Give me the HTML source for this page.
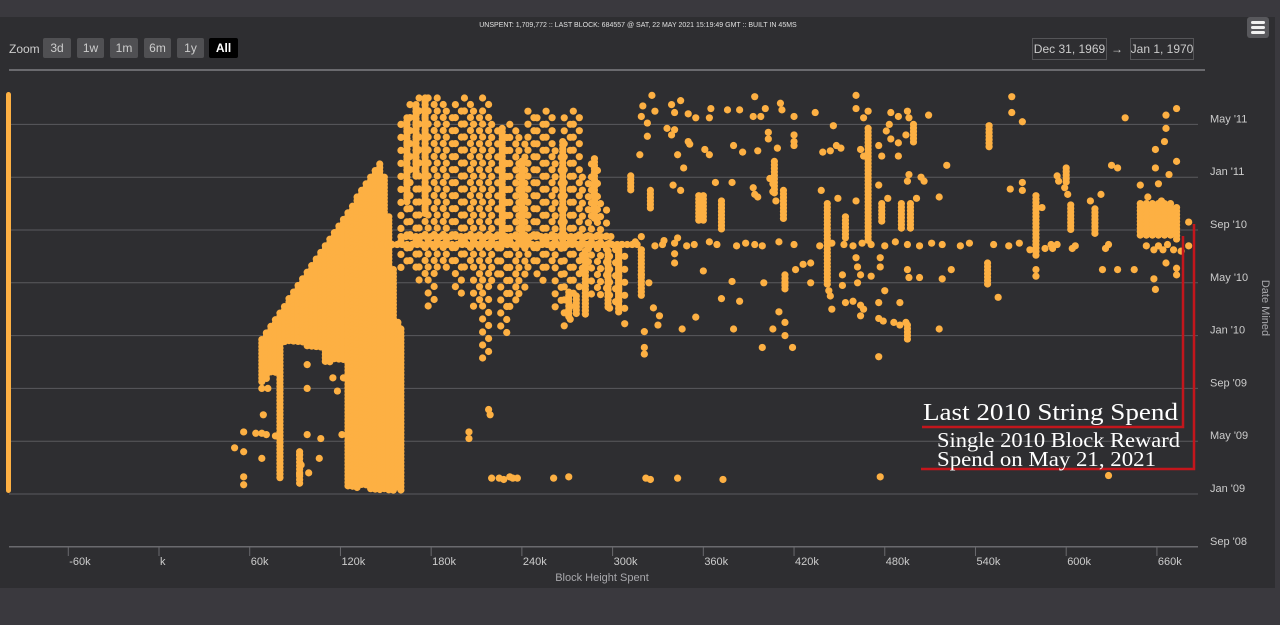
<!DOCTYPE html>
<html><head><meta charset="utf-8"><style>
html,body{margin:0;padding:0;background:#3a393e;}
svg{display:block;font-family:"Liberation Sans",sans-serif;}
</style></head><body>
<svg id="chart" width="1280" height="625" viewBox="0 0 1280 625">
<rect x="0" y="0" width="1280" height="625" fill="#3a393e"/>
<rect x="0" y="17" width="1275" height="571" fill="#2e2e31"/>
<text x="638" y="27" text-anchor="middle" font-size="7" fill="#e0e0e0">UNSPENT: 1,709,772 :: LAST BLOCK: 684557 @ SAT, 22 MAY 2021 15:19:49 GMT :: BUILT IN 45MS</text>
<g>
<text x="9" y="53" font-size="12" fill="#cccccc">Zoom</text>
<g><rect x="43" y="38" width="28" height="20" rx="2" fill="#505053"/><text x="57" y="52" text-anchor="middle" font-size="12" fill="#cccccc">3d</text></g>
<g><rect x="77" y="38" width="27" height="20" rx="2" fill="#505053"/><text x="90.5" y="52" text-anchor="middle" font-size="12" fill="#cccccc">1w</text></g>
<g><rect x="110" y="38" width="28" height="20" rx="2" fill="#505053"/><text x="124" y="52" text-anchor="middle" font-size="12" fill="#cccccc">1m</text></g>
<g><rect x="144" y="38" width="27" height="20" rx="2" fill="#505053"/><text x="157.5" y="52" text-anchor="middle" font-size="12" fill="#cccccc">6m</text></g>
<g><rect x="177" y="38" width="27" height="20" rx="2" fill="#505053"/><text x="190.5" y="52" text-anchor="middle" font-size="12" fill="#cccccc">1y</text></g>
<g><rect x="209" y="38" width="29" height="20" rx="2" fill="#000000"/><text x="223.5" y="52" text-anchor="middle" font-size="12" font-weight="bold" fill="#ffffff">All</text></g>
</g>
<g>
<g><rect x="1032.5" y="38.5" width="74" height="21" fill="none" stroke="#555558"/><text x="1069.5" y="53" text-anchor="middle" font-size="12" fill="#cccccc">Dec 31, 1969</text></g>
<text x="1117" y="53" text-anchor="middle" font-size="12" fill="#cccccc">→</text>
<g><rect x="1130.5" y="38.5" width="63" height="21" fill="none" stroke="#555558"/><text x="1162" y="53" text-anchor="middle" font-size="12" fill="#cccccc">Jan 1, 1970</text></g>
</g>
<g><rect x="1247" y="17" width="22" height="21" rx="3" fill="#58585c"/><rect x="1251" y="21" width="14" height="3" rx="1.5" fill="#f0f0f0"/><rect x="1251" y="26" width="14" height="3" rx="1.5" fill="#f0f0f0"/><rect x="1251" y="31" width="14" height="3" rx="1.5" fill="#f0f0f0"/></g>
<line x1="9" y1="70" x2="1205" y2="70" stroke="#6a6a6e" stroke-width="2"/>
<g id="grid"></g>
<g id="axes"></g>
<rect x="6" y="92" width="5" height="401" rx="2.5" fill="#fdb043"/>
<g id="dots"></g>
<g>
<polyline points="922,427 1183,427 1183,236" fill="none" stroke="#c4161c" stroke-width="2.5"/>
<polyline points="921,469 1194,469 1194,224" fill="none" stroke="#c4161c" stroke-width="2.5"/>
<text x="923" y="420" font-family="Liberation Serif, serif" font-size="24" fill="#ffffff" textLength="255" lengthAdjust="spacingAndGlyphs">Last 2010 String Spend</text>
<text x="937" y="447" font-family="Liberation Serif, serif" font-size="21" fill="#ffffff" textLength="243" lengthAdjust="spacingAndGlyphs">Single 2010 Block Reward</text>
<text x="937" y="466" font-family="Liberation Serif, serif" font-size="21" fill="#ffffff" textLength="219" lengthAdjust="spacingAndGlyphs">Spend on May 21, 2021</text>
</g>
</svg>
<script>
// x: block height (thousands); y: months since Jan 2009
const xTickValues = [-60,0,60,120,180,240,300,360,420,480,540,600,660];
const xTickLabels = ["-60k","k","60k","120k","180k","240k","300k","360k","420k","480k","540k","600k","660k"];
const yTickValues = [-4,0,4,8,12,16,20,24,28];
const yTickLabels = ["Sep '08","Jan '09","May '09","Sep '09","Jan '10","May '10","Sep '10","Jan '11","May '11"];
// dense vertical runs: [block, monthFrom, monthTo]
const denseRuns = [[68,8.5,11.7],[71,8.5,12.2],[74,9,12.7],[77,9,13.2],[80,1,13.7],[83,11.5,14.2],[86,11.5,14.8],[89,11.5,15.3],[92,11.5,15.8],[95,11.5,16.3],[98,11,16.8],[101,11,17.3],[104,11,17.8],[107,11,18.3],[110,10,18.8],[113,10,19.3],[116,10,19.8],[119,10,20.3],[122,10,20.8],[125,0.5,21.3],[128,0.5,21.8],[131,0.5,22.5],[134,0.5,23],[137,0.5,23.5],[140,0.3,24],[143,0.3,24.5],[146,0.3,25],[149,0.3,24],[152,0.3,21],[155,0.3,17],[158,0.3,13],[160,0.3,12.5],[93,0.7,3.2],
[164,22,28.5],[170,24,29.5],[176,21,30],
[227,18.9,27.7],[240,19.1,25.2],[267,18.9,26.7],[288,20.9,25.4],[282,13.6,18.4],[304,14.6,18.4],[297,14,18.4],[271,13.3,15.3],[276,13.5,15],
[469,19.1,27.7],[649,19.5,22],[653,19.5,22],[657,19.5,22],[661,19.5,22],[665,19.5,22],[669,19.5,22],[673,19.2,21.7],[603,19.8,21.9],[619,19.6,21.6],[580,17.9,22.6],[497,20,22],[491,20,22],[478,20.6,22],[442,15.8,22],[413,20.7,23],[407,22.7,25.2],[357,20.6,22.6],[360,20.6,22.6],[372,20,22.2],[325,21.5,23],[312,22.9,24.1],[304,13.6,18.3],[499,26.5,28],[495,11.5,12.8],[454,19.2,21],[414,15.3,16.6],[549,26.2,27.9],[600,23.5,24.7],[319,14.8,18.5],[548,15.7,17.5]];
// sparse vertical runs of scattered spends: [block, monthFrom, monthTo]
const sparseRuns = [[162,17,28],[168,17,29.5],[174,16,30],[180,14,30],[186,17,30],[192,17,29],[198,15,29.5],[204,17,30],[210,14,29],[216,10,30],[222,16,28],[228,12,27.5],[234,14,28],[240,15,27],[246,17,29],[252,16,28.5],[258,17,29],[264,14,26],[270,12.5,28.5],[276,15,29],[282,17,24],[288,15,25],[294,15,22],[300,14,19],[306,14,18.5]];
// horizontal runs: [month, blockFrom, blockTo]
const rowRuns = [[18.9,141,317],[19.5,160,300]];
// individual spends: [block, month]
const points = [
[306,18.9],[315,19.1],[328,18.8],[333,18.9],[341,19],[349,18.8],[354,18.9],[364,19.1],[369,18.9],[382,18.8],[388,19],[394,18.9],[399,18.8],[410,19.1],[420,18.9],[437,18.8],[445,19],[453,18.9],[459,18.8],[465,19],[471,18.9],[480,18.8],[487,19.1],[495,18.9],[503,18.8],[511,19],[518,18.9],[530,18.8],[536,19],[552,18.9],[562,18.8],[569,19],[590,18.9],[594,18.9],[606,18.8],[628,18.9],[653,18.8],[661,18.8],[667,18.9],[681,18.8],
[326,30.2],[320,29.4],[319,28.6],[323,28.1],[328,29],[339,29.5],[341,28.9],[345,29.8],[350,28.8],[355,28.5],[364,28.5],[365,29.2],[376,29.1],[384,29.1],[394,30.1],[393,28.6],[398,28.6],[401,29.2],[411,29.6],[412,29.1],[420,28.6],[434,28.9],[461,30.2],[461,29.2],[469,29],[466,28.5],[484,28.9],[489,28.6],[495,29],[496,28.5],[509,28.7],[564,30.1],[564,28.9],[571,28.2],[639,28.5],[666,28.7],[673,29.2],[666,27.7],[665,26.7],[659,26.1],[673,25.2],[659,24.7],[668,24.2],[630,24.9],[634,24.7],[594,24.1],[521,24.9],
[323,27.1],[336,27.7],[339,27.2],[341,27.6],[350,26.7],[351,26.5],[361,26.1],[364,25.7],[380,26.4],[386,25.9],[396,26],[403,27.4],[403,26.9],[409,26.2],[420,27.2],[420,26.7],[420,26.4],[446,27.9],[439,25.9],[444,26],[448,26.4],[451,26.2],[464,26.1],[466,25.6],[476,26.4],[478,25.6],[481,27.5],[483,28],[484,26.9],[494,27.2],[489,26.6],[489,25.6],[318,25.7],[347,24.7],[343,25.7],
[368,23.6],[379,23.6],[340,23.4],[345,23],[393,23.2],[394,22.7],[396,22.5],[404,23.9],[406,23.5],[406,22.9],[408,22.2],[438,23],[449,22.4],[461,22.2],[476,23.4],[482,22.4],[501,22.4],[496,24.2],[495,23.7],[504,24],[506,23.7],[516,22.5],[563,23.1],[571,23.6],[571,23],[595,23.7],[599,23.2],[601,22.7],[649,23.4],[661,23.5],[623,22.7],[616,22.2],[654,22.5],[663,22.2],[650,21.7],[584,21.7],
[319,19.5],[334,19.2],[343,19.4],[319,18.5],[341,18.2],[341,17.5],[360,16.9],[319,16.6],[324,16],[379,16.1],[400,16],[414,16],[421,17],[426,17.4],[431,17.5],[431,16],[461,17.9],[462,17.2],[464,16.6],[477,17.9],[477,17.2],[471,16.5],[462,16],[452,15.8],[452,16.6],[495,17],[496,16.4],[503,16.4],[518,16.3],[524,17],[576,18.5],[580,17],[580,16.5],[624,17],[634,17],[645,17],[658,16.3],[659,15.5],[586,18.6],[591,18.6],[604,18.6],[626,18.6],[658,18.5],[664,18.5],[671,18.5],[676,18.4],[666,17.5],[673,17.1],[673,16.6],[681,20.6],
[443,15.4],[444,15],[454,14.5],[459,14.6],[464,14.3],[466,14],[464,13.5],[480,15.4],[476,14.5],[476,13.3],[479,13.1],[486,13],[490,12.8],[494,13],[490,14.5],[445,14],[372,14.8],[384,14.6],[555,14.9],[327,14.1],[331,13.5],[330,12.8],[308,12.9],[355,13.4],[346,12.5],[380,12.5],[321,12.3],[321,11.1],[321,10.6],[414,12],[414,13],[406,12.5],[399,11.1],[419,11.1],[476,10.4],[516,12.5],[410,13.8],
[220,1.2],[225,1.2],[228,1.1],[232,1.3],[234,1.2],[237,1.2],[261,1.2],[271,1.3],[322,1.2],[325,1.1],[343,1.2],[373,1.1],[477,1.3],[628,1.4],[218,6.4],[219,6],[205,4.7],[205,4.2],
[50,3.5],[56,3.2],[56,4.7],[56,1.3],[56,0.7],[64,4.6],[68,4.6],[71,4.5],[69,6],[68,8],[72,8],[77,4.4],[68,2.7],[93,3],[94,2.2],[93,1.5],[98,4.5],[99,1.6],[98,9.8],[98,8],[107,4.2],[106,2.7],[115,8.8],[118,7.8],[122,8.8],[121,4.5]
];
const X0 = 159, XK = 1.512, Y0 = 494, YK = 13.2;
function xScale(b){ return X0 + b*XK; }
function yScale(m){ return Y0 - m*YK; }
const NS = "http://www.w3.org/2000/svg";
const grid = document.getElementById('grid');
const axes = document.getElementById('axes');
const dots = document.getElementById('dots');
function mk(tag, attrs, parent){ const e=document.createElementNS(NS,tag); for(const k in attrs) e.setAttribute(k,attrs[k]); parent.appendChild(e); return e; }
yTickValues.forEach((v,i)=>{
  const y=yScale(v);
  if(i>0){ const g=mk('line',{x1:9,x2:1198,y1:y,y2:y,stroke:'#5a5a5e','stroke-width':1},grid);
  
   }
  const t=mk('text',{x:1210,y:y-2,'font-size':11,fill:'#cccccc'},axes);
  
  
  t.textContent=yTickLabels[i];
});
const axisLine=mk('line',{x1:9,x2:1198,y1:yScale(-4),y2:yScale(-4),stroke:'#6a6a6e','stroke-width':1.5},axes);


xTickValues.forEach((v,i)=>{
  const x=xScale(v);
  const tk=mk('line',{x1:x,x2:x,y1:547,y2:556,stroke:'#6a6a6e','stroke-width':1},axes);
  
  
  const t=mk('text',{x:x+1,y:565,'font-size':11,fill:'#cccccc'},axes);
  
  
  t.textContent=xTickLabels[i];
});
const xt=mk('text',{x:602,y:581,'text-anchor':'middle','font-size':11,fill:'#a8a8ac'},axes);


xt.textContent='Block Height Spent';
const yt=mk('text',{x:1262,y:308,'text-anchor':'middle','font-size':11,fill:'#a8a8ac',transform:'rotate(90 1262 308)'},axes);


yt.textContent='Date Mined';
const COL='#fdb043';
function dot(cx,cy){ const c=mk('circle',{cx:cx,cy:cy,r:3.6,fill:COL},dots);
  
   }
denseRuns.forEach(r=>{ const x=xScale(r[0]); const y1=yScale(r[2]), y2=yScale(r[1]); for(let y=y1;y<=y2+0.1;y+=3.5) dot(x,y); });
sparseRuns.forEach(r=>{ const x=xScale(r[0]); const y1=yScale(r[2]), y2=yScale(r[1]); let k=0; for(let y=y1;y<=y2+0.1;y+=6.5){ dot(x+((k++)%2?3:-3),y); } });
rowRuns.forEach(r=>{ const y=yScale(r[0]); for(let x=xScale(r[1]);x<=xScale(r[2]);x+=5) dot(x,y); });
points.forEach(p=>dot(xScale(p[0]),yScale(p[1])));
</script>
</body></html>
